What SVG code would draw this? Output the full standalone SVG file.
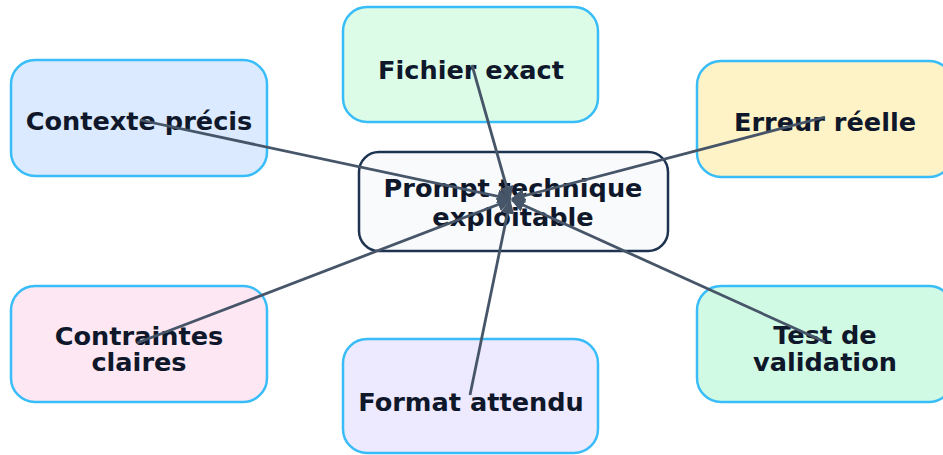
<svg xmlns="http://www.w3.org/2000/svg" width="943" height="455" viewBox="0 0 943 455">
<defs>
<style>
.n{stroke:#38bdf8;stroke-width:2.5}
.c{fill:#f8fafc;stroke:#1e3350;stroke-width:2.5}
.t{font-family:"DejaVu Sans",sans-serif;font-weight:bold;font-size:25.6px;fill:#0f172a;text-anchor:middle}
.e{stroke:#475569;stroke-width:2.8;fill:none;marker-end:url(#ah)}
</style>
<marker id="ah" viewBox="0 0 10 10" refX="9" refY="5" markerWidth="5" markerHeight="5" orient="auto" markerUnits="strokeWidth">
<path d="M0,0 L10,5 L0,10 z" fill="#475569"/>
</marker>
</defs>
<rect width="943" height="455" fill="#ffffff"/>
<g id="node-center">
<rect class="c" x="359" y="152" width="309" height="99" rx="20"/>
<text class="t" x="513" y="197">Prompt technique</text>
<text class="t" x="513" y="226">exploitable</text>
</g>
<g id="node-contexte">
<rect class="n" x="11" y="60" width="256" height="116" rx="24" fill="#dbeafe"/>
<text class="t" x="139" y="130">Contexte précis</text>
</g>
<g id="node-fichier">
<rect class="n" x="343" y="7" width="255" height="115" rx="24" fill="#dcfce7"/>
<text class="t" x="471" y="79">Fichier exact</text>
</g>
<g id="node-erreur">
<rect class="n" x="697" y="61" width="256" height="116" rx="24" fill="#fef3c7"/>
<text class="t" x="825" y="131">Erreur réelle</text>
</g>
<g id="node-contraintes">
<rect class="n" x="11" y="286" width="256" height="116" rx="24" fill="#fce7f3"/>
<text class="t" x="139" y="345">Contraintes</text>
<text class="t" x="139" y="371">claires</text>
</g>
<g id="node-format">
<rect class="n" x="343" y="339" width="255" height="114" rx="24" fill="#ede9fe"/>
<text class="t" x="471" y="411">Format attendu</text>
</g>
<g id="node-test">
<rect class="n" x="697" y="286" width="256" height="116" rx="24" fill="#d1fae5"/>
<text class="t" x="825" y="344">Test de</text>
<text class="t" x="825" y="371">validation</text>
</g>
<g id="connectors">
<line class="e" x1="140" y1="120" x2="510" y2="199"/>
<line class="e" x1="472" y1="65" x2="510" y2="199"/>
<line class="e" x1="825" y1="117" x2="512" y2="199"/>
<line class="e" x1="137" y1="343" x2="510" y2="200"/>
<line class="e" x1="470" y1="395" x2="510" y2="201"/>
<line class="e" x1="825" y1="342" x2="512" y2="200"/>
</g>
</svg>
